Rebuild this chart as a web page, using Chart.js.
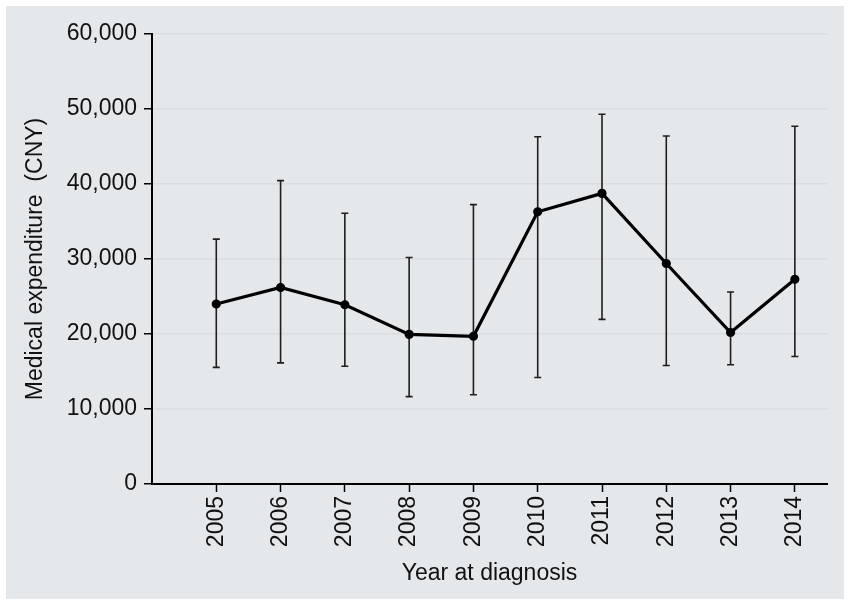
<!DOCTYPE html>
<html>
<head>
<meta charset="utf-8">
<script src="https://cdn.jsdelivr.net/npm/chart.js@4"></script>
<style>
  body { margin: 0; background: #ffffff; }
  #panel { position: absolute; left: 6px; top: 6px; width: 838px; height: 593px; background: #e5e8eb; }
</style>
</head>
<body>
<div id="panel"><canvas id="gasto-chart" width="838" height="593"></canvas></div>
<script>
// Datos
const anios = [2005, 2006, 2007, 2008, 2009, 2010, 2011, 2012, 2013, 2014];
const media = [24000, 26200, 23900, 19950, 19700, 36300, 38750, 29400, 20200, 27300];
const limiteInferior = [15550, 16150, 15700, 11650, 11900, 14200, 21950, 15800, 15900, 17000];
const limiteSuperior = [32650, 40450, 36100, 30200, 37250, 46300, 49300, 46400, 25600, 47700];
const ticksY = [0, 10000, 20000, 30000, 40000, 50000, 60000];

const fuente = "'Liberation Sans', Arial, sans-serif";

// Barras de error dibujadas con las escalas del gráfico
const barrasError = {
  id: 'barrasError',
  beforeDatasetsDraw(chart) {
    const ctx = chart.ctx;
    const x = chart.scales.x;
    const y = chart.scales.y;
    ctx.save();
    ctx.strokeStyle = '#1e1e1e';
    ctx.lineWidth = 1.6;
    anios.forEach((a, i) => {
      const px = x.getPixelForValue(a);
      const yLo = y.getPixelForValue(limiteInferior[i]);
      const yHi = y.getPixelForValue(limiteSuperior[i]);
      ctx.beginPath();
      ctx.moveTo(px, yLo);
      ctx.lineTo(px, yHi);
      ctx.moveTo(px - 3.5, yLo);
      ctx.lineTo(px + 3.5, yLo);
      ctx.moveTo(px - 3.5, yHi);
      ctx.lineTo(px + 3.5, yHi);
      ctx.stroke();
    });
    ctx.restore();
  }
};

new Chart(document.getElementById('gasto-chart').getContext('2d'), {
  type: 'line',
  data: {
    datasets: [{
      label: 'Medical expenditure',
      data: anios.map((a, i) => ({ x: a, y: media[i] })),
      borderColor: '#000000',
      backgroundColor: '#000000',
      borderWidth: 3.2,
      pointRadius: 3,
      pointHoverRadius: 3,
      tension: 0
    }]
  },
  options: {
    responsive: false,
    animation: false,
    layout: { padding: { top: 28, right: 17, left: 0, bottom: 0 } },
    plugins: { legend: { display: false }, tooltip: { enabled: false } },
    scales: {
      x: {
        type: 'linear',
        min: 2004,
        max: 2014.5,
        afterBuildTicks(scale) { scale.ticks = anios.map(v => ({ value: v })); },
        afterFit(scale) { scale.height = 115; },
        ticks: {
          minRotation: 90,
          maxRotation: 90,
          padding: 4,
          color: '#111',
          font: { family: fuente, size: 23 },
          callback: v => String(v)
        },
        grid: { drawOnChartArea: false, color: '#000', tickColor: '#000', tickLength: 8, tickWidth: 1.5 },
        border: { color: '#000', width: 2 },
        title: {
          display: true,
          text: 'Year at diagnosis',
          color: '#111',
          font: { family: fuente, size: 23 },
          padding: { top: 0, bottom: 12 }
        }
      },
      y: {
        min: 0,
        max: 60000,
        afterBuildTicks(scale) { scale.ticks = ticksY.map(v => ({ value: v })); },
        afterFit(scale) { scale.width = 146; },
        ticks: {
          padding: 7,
          color: '#111',
          font: { family: fuente, size: 23 },
          callback: v => v.toLocaleString('en-US')
        },
        grid: { color: '#d9dce0', lineWidth: 1.5, tickColor: '#000', tickLength: 8, tickWidth: 1.5 },
        border: { color: '#000', width: 2 },
        title: {
          display: true,
          text: 'Medical expenditure  (CNY)',
          color: '#111',
          font: { family: fuente, size: 23 },
          padding: { top: 16, bottom: 0 }
        }
      }
    }
  },
  plugins: [barrasError]
});
</script>
</body>
</html>
